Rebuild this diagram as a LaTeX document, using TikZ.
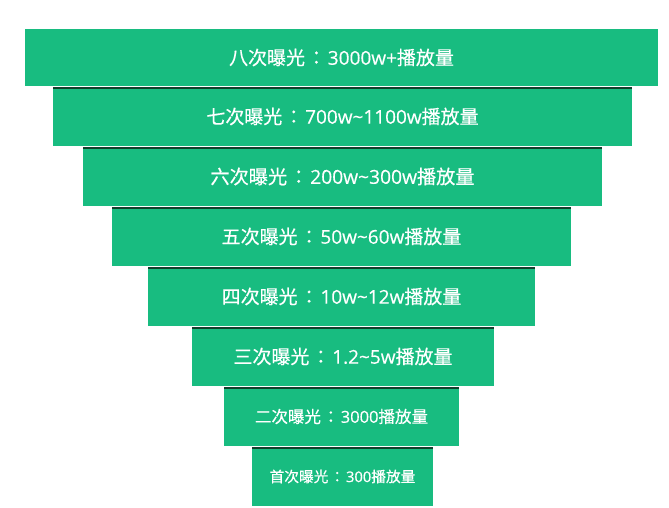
\documentclass[tikz,border=0pt]{standalone}
\usepackage{fontspec}
\setmainfont[FakeBold=0.4]{Open Sans}
\newfontfamily\cjk[FakeBold=0.45]{Noto Sans CJK SC}
\newfontfamily\cjkc[FakeBold=0.45]{Noto Sans CJK TC}
\newcommand{\lbl}[3]{{\cjk #1}\makebox[1.2em][c]{\cjkc ：}#2{\cjk #3}}
\definecolor{bargreen}{RGB}{24,188,128}
\definecolor{bardark}{RGB}{18,62,44}
\begin{document}
\begin{tikzpicture}[x=1pt,y=-1pt,
  bar/.style={fill=bargreen, draw=none, inner sep=0pt, outer sep=0pt, text=white, align=center},
  topline/.style={draw=bardark, line width=2pt}]
\useasboundingbox (0,0) rectangle (669,508);
\node[bar, minimum width=633pt, minimum height=57pt, font=\fontsize{19}{21}\selectfont] (b1) at (341.5,57.5) {\lbl{八次曝光}{3000w+}{播放量}};
\node[bar, minimum width=579pt, minimum height=59pt, font=\fontsize{19}{21}\selectfont] (b2) at (342.5,116.5) {\lbl{七次曝光}{700w\textasciitilde1100w}{播放量}};
\node[bar, minimum width=519pt, minimum height=59pt, font=\fontsize{19.2}{21}\selectfont] (b3) at (342.5,176.5) {\lbl{六次曝光}{200w\textasciitilde300w}{播放量}};
\node[bar, minimum width=459pt, minimum height=59pt, font=\fontsize{19}{21}\selectfont] (b4) at (341.5,236.5) {\lbl{五次曝光}{50w\textasciitilde60w}{播放量}};
\node[bar, minimum width=387pt, minimum height=59pt, font=\fontsize{19}{21}\selectfont] (b5) at (341.5,296.5) {\lbl{四次曝光}{10w\textasciitilde12w}{播放量}};
\node[bar, minimum width=302pt, minimum height=59pt, font=\fontsize{19}{21}\selectfont] (b6) at (343,356.5) {\lbl{三次曝光}{1.2\textasciitilde5w}{播放量}};
\node[bar, minimum width=235pt, minimum height=59pt, font=\fontsize{16.5}{18}\selectfont] (b7) at (341.5,416.5) {\lbl{二次曝光}{3000}{播放量}};
\node[bar, minimum width=181pt, minimum height=59pt, font=\fontsize{14.7}{16}\selectfont] (b8) at (342.5,476.5) {\lbl{首次曝光}{300}{播放量}};
\foreach \b in {b2,b3,b4,b5,b6,b7,b8}{
  \draw[topline] ([yshift=-1pt]\b.north west) -- ([yshift=-1pt]\b.north east);
}
\end{tikzpicture}
\end{document}
